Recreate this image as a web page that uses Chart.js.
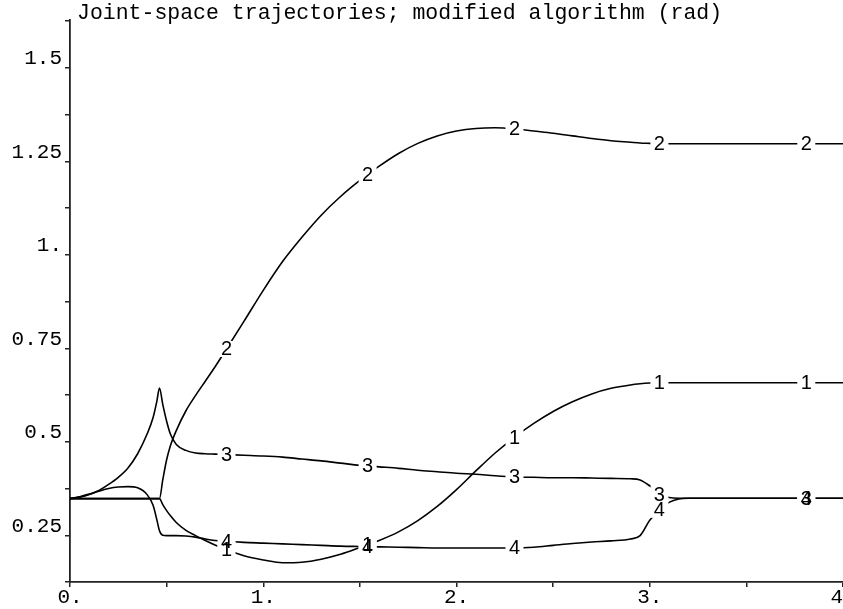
<!DOCTYPE html>
<html>
<head>
<meta charset="utf-8">
<script src="https://cdn.jsdelivr.net/npm/chart.js@4/dist/chart.umd.min.js"></script>
<style>
html,body{margin:0;padding:0;background:#fff;overflow:hidden}
#wrap{width:843px;height:609px;position:relative}
</style>
</head>
<body>
<div id="wrap"><canvas id="c" width="843" height="609"></canvas></div>
<script>
const chartTitle = "Joint-space trajectories; modified algorithm (rad)";

const times  = [0, 0.05, 0.1, 0.15, 0.2, 0.25, 0.3, 0.35, 0.4, 0.43, 0.45, 0.463, 0.48, 0.5, 0.52, 0.55, 0.6, 0.65, 0.7, 0.75, 0.8, 0.9, 1.0, 1.1, 1.2, 1.3, 1.4, 1.5, 1.6, 1.7, 1.8, 1.9, 2.0, 2.1, 2.2, 2.3, 2.4, 2.5, 2.6, 2.7, 2.8, 2.9, 2.95, 3.0, 3.05, 3.1, 3.15, 3.2, 3.5, 4.0];

const joint1 = [0.348, 0.348, 0.348, 0.348, 0.348, 0.348, 0.348, 0.348, 0.348, 0.348, 0.348, 0.348, 0.332, 0.316, 0.302, 0.284, 0.263, 0.249, 0.236, 0.224, 0.213, 0.195, 0.184, 0.1765, 0.178, 0.186, 0.199, 0.217, 0.236, 0.259, 0.289, 0.327, 0.372, 0.422, 0.47, 0.512, 0.549, 0.581, 0.607, 0.628, 0.643, 0.652, 0.655, 0.657, 0.658, 0.658, 0.658, 0.658, 0.658, 0.658];

const joint2 = [0.348, 0.348, 0.348, 0.348, 0.348, 0.348, 0.348, 0.348, 0.348, 0.348, 0.348, 0.348, 0.398, 0.452, 0.49, 0.53, 0.583, 0.624, 0.662, 0.70, 0.74, 0.822, 0.905, 0.982, 1.047, 1.106, 1.156, 1.199, 1.237, 1.271, 1.298, 1.318, 1.331, 1.338, 1.340, 1.337, 1.331, 1.325, 1.318, 1.311, 1.305, 1.301, 1.299, 1.298, 1.297, 1.297, 1.297, 1.297, 1.297, 1.297];

const joint3 = [0.348, 0.352, 0.359, 0.37, 0.386, 0.405, 0.43, 0.468, 0.522, 0.565, 0.61, 0.644, 0.60, 0.555, 0.52, 0.493, 0.477, 0.47, 0.468, 0.467, 0.466, 0.464, 0.462, 0.459, 0.454, 0.449, 0.443, 0.437, 0.433, 0.429, 0.424, 0.42, 0.416, 0.413, 0.409, 0.406, 0.405, 0.404, 0.404, 0.403, 0.402, 0.401, 0.398, 0.382, 0.36, 0.351, 0.349, 0.349, 0.349, 0.349];

const joint4 = [0.348, 0.353, 0.36, 0.368, 0.375, 0.379, 0.38, 0.377, 0.358, 0.33, 0.29, 0.262, 0.25, 0.249, 0.249, 0.249, 0.248, 0.245, 0.240, 0.236, 0.234, 0.231, 0.229, 0.227, 0.225, 0.223, 0.221, 0.22, 0.219, 0.218, 0.217, 0.216, 0.216, 0.216, 0.216, 0.216, 0.218, 0.223, 0.228, 0.232, 0.235, 0.24, 0.249, 0.29, 0.318, 0.338, 0.347, 0.349, 0.349, 0.349];

const seriesNames = ["1", "2", "3", "4"];
const seriesValues = [joint1, joint2, joint3, joint4];
const labelTimes = [0.81, 1.54, 2.3, 3.05, 3.81];

const xTickValues = [0, 0.5, 1, 1.5, 2, 2.5, 3, 3.5, 4];
const xMajorValues = [0, 1, 2, 3, 4];
const xTickLabels = ["0.", "1.", "2.", "3.", "4."];
const yTickValues = [0.125, 0.25, 0.375, 0.5, 0.625, 0.75, 0.875, 1, 1.125, 1.25, 1.375, 1.5, 1.625];
const yMajorValues = [0.25, 0.5, 0.75, 1, 1.25, 1.5];
const yTickLabels = ["0.25", "0.5", "0.75", "1.", "1.25", "1.5"];

function interp(xs, ys, t) {
  for (let i = 0; i < xs.length - 1; i++) {
    if (t >= xs[i] && t <= xs[i + 1]) {
      const f = (t - xs[i]) / (xs[i + 1] - xs[i]);
      return ys[i] + f * (ys[i + 1] - ys[i]);
    }
  }
  return ys[ys.length - 1];
}
function labelFor(v, majors, labels) {
  for (let i = 0; i < majors.length; i++) if (Math.abs(v - majors[i]) < 1e-6) return labels[i];
  return '';
}

const monoFont = '"Liberation Mono", "DejaVu Sans Mono", monospace';
const axisColor = '#222';

const curveLabels = {
  id: 'curveLabels',
  afterDatasetsDraw(chart) {
    const ctx = chart.ctx, xs = chart.scales.x, ys = chart.scales.y;
    const items = [];
    seriesValues.forEach((vals, di) => {
      labelTimes.forEach(t => {
        const v = interp(times, vals, t);
        items.push({x: xs.getPixelForValue(t), y: ys.getPixelForValue(v), text: seriesNames[di]});
      });
    });
    ctx.save();
    ctx.fillStyle = '#fff';
    items.forEach(it => ctx.fillRect(it.x - 9, it.y - 8, 18, 16));
    ctx.fillStyle = '#000';
    ctx.font = '20px "Liberation Sans", Arial, sans-serif';
    ctx.textAlign = 'center';
    ctx.textBaseline = 'middle';
    items.forEach(it => ctx.fillText(it.text, it.x, it.y + 1));
    ctx.restore();
  }
};

const titleText = {
  id: 'titleText',
  afterDraw(chart) {
    const ctx = chart.ctx;
    ctx.save();
    ctx.fillStyle = '#000';
    ctx.font = '21.5px ' + monoFont;
    ctx.textAlign = 'left';
    ctx.textBaseline = 'alphabetic';
    ctx.fillText(chartTitle, 77, 19);
    ctx.restore();
  }
};

const datasets = seriesValues.map((vals, di) => ({
  label: seriesNames[di],
  data: times.map((t, i) => ({x: t, y: vals[i]})),
  borderColor: '#000',
  borderWidth: 1.6,
  pointRadius: 0,
  fill: false,
  cubicInterpolationMode: 'monotone'
}));

new Chart(document.getElementById('c'), {
  type: 'line',
  data: { datasets },
  plugins: [curveLabels, titleText],
  options: {
    responsive: false,
    animation: false,
    events: [],
    layout: { padding: { top: 20, left: 0, right: 0, bottom: 0 } },
    plugins: { legend: { display: false }, tooltip: { enabled: false }, title: { display: false } },
    scales: {
      x: {
        type: 'linear', min: 0, max: 4,
        afterBuildTicks: s => { s.ticks = xTickValues.map(v => ({value: v})); },
        afterFit: s => { s.height = 27; s.paddingRight = 0; s.paddingLeft = 0; },
        ticks: {
          autoSkip: false, maxRotation: 0, padding: 0, color: '#000',
          font: { family: monoFont, size: 21, lineHeight: 1 },
          callback: v => labelFor(v, xMajorValues, xTickLabels)
        },
        grid: { drawOnChartArea: false, drawTicks: true, tickLength: 5, color: axisColor, lineWidth: 1.5 },
        border: { display: true, color: axisColor, width: 1.8 }
      },
      y: {
        type: 'linear', min: 0.125, max: 1.628,
        afterBuildTicks: s => { s.ticks = yTickValues.map(v => ({value: v})); },
        afterFit: s => { s.width = 70; s.paddingTop = 0; s.paddingBottom = 0; },
        ticks: {
          autoSkip: false, padding: 3, color: '#000', labelOffset: -9,
          font: { family: monoFont, size: 21 },
          callback: v => labelFor(v, yMajorValues, yTickLabels)
        },
        grid: { drawOnChartArea: false, drawTicks: true, tickLength: 5, color: axisColor, lineWidth: 1.5 },
        border: { display: true, color: axisColor, width: 1.8 }
      }
    }
  }
});
</script>
</body>
</html>
